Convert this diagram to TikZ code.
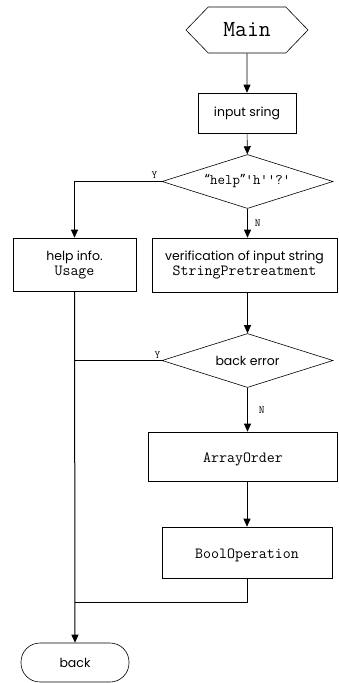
\documentclass[tikz,border=0pt]{standalone}
\usepackage{fontspec}
\setmainfont{Poppins}
\usetikzlibrary{arrows.meta,positioning,shapes.geometric,shapes.symbols}

\begin{document}
\begin{tikzpicture}[
      x=1pt, y=-1pt, line width=0.6pt,
      font=\fontsize{12.5}{15}\selectfont,
      box/.style={draw, align=center, inner sep=2pt},
      decide/.style={draw, diamond, aspect=3.2, minimum width=171pt,
                     minimum height=54pt, inner sep=0pt, align=center},
      hexa/.style={draw, signal, signal to=west and east, signal pointer angle=92,
                   minimum width=122pt, minimum height=46pt, inner sep=0pt,
                   font=\fontsize{23}{25}\selectfont\ttfamily},
      term/.style={draw, rounded corners=19pt, minimum width=108pt,
                   minimum height=39pt},
      yn/.style={font=\fontsize{11}{12}\selectfont\ttfamily, inner sep=1pt},
      >={Triangle[length=8pt,width=7pt]}]

    \useasboundingbox (0,0) rectangle (338,683);

    \node[hexa] (main) at (247,30) {Main};
    \node[box, minimum width=98pt, minimum height=40pt] (input) at (247,113)
      {input sring};
    \node[decide] (help?) at (247.5,181.5)
      {\fontsize{14.5}{15}\selectfont\ttfamily{\rmfamily“}help{\rmfamily”}'h''?'};
    \node[box, minimum width=123pt, minimum height=53pt] (help) at (74.5,264.5)
      {help info.\\\fontsize{15.5}{16}\selectfont\ttfamily Usage};
    \node[box, minimum width=185pt, minimum height=54pt] (verify) at (244.5,265)
      {verification of input string\\\fontsize{15.5}{16}\selectfont\ttfamily StringPretreatment};
    \node[decide] (err?) at (247.5,360.5) {back error};
    \node[box, minimum width=189pt, minimum height=49pt] (order) at (243,456.5)
      {\mbox{}\\\fontsize{15.5}{16}\selectfont\ttfamily ArrayOrder};
    \node[box, minimum width=170pt, minimum height=51pt] (bool) at (247,552.5)
      {\mbox{}\\\fontsize{15.5}{16}\selectfont\ttfamily BoolOperation};
    \node[term] (back) at (75,662.5) {back};

    \coordinate (join1) at (75,360.5);
    \coordinate (join2) at (75,602);

    \draw[->] (main) -- (input);
    \draw[->] (input) -- (help?);
    \draw[->] (help?.west) node[yn, above left=2pt and 3pt] {Y} -| (help);
    \draw[->] (help?) -- node[yn, right=6pt] {N} (verify.north -| help?);
    \draw[->] (verify.south -| err?) -- (err?);
    \draw (err?.west) node[yn, above left=1pt and 0pt] {Y} -- (join1);
    \draw[->] (err?) -- node[yn, right=10pt] {N} (order.north -| err?);
    \draw[->] (order.south -| bool) -- (bool);
    \draw (bool) |- (join2);
    \draw[->, line width=1pt] (help) -- (back);
  \end{tikzpicture}
\end{document}
